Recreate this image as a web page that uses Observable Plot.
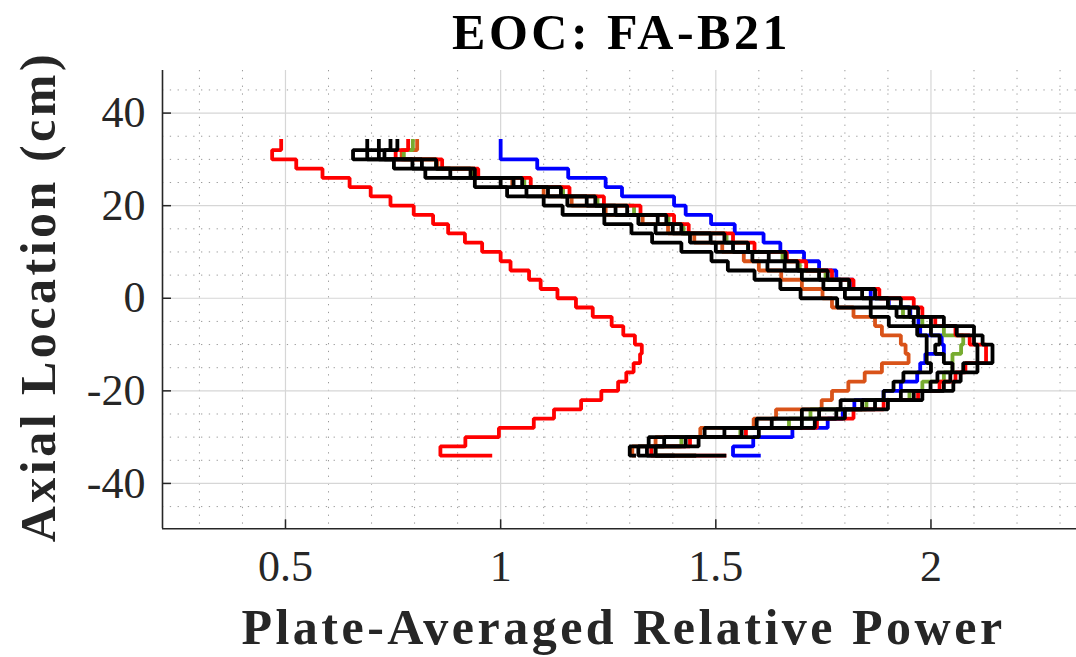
<!DOCTYPE html>
<html><head><meta charset="utf-8">
<script src="https://cdn.jsdelivr.net/npm/d3@7"></script>
<script src="https://cdn.jsdelivr.net/npm/@observablehq/plot@0.6"></script>
<style>
html,body{margin:0;padding:0;background:#fff;}
#chart svg{display:block;}
g[font-weight="bold"] text{letter-spacing:3.5px;}
</style></head><body><div id="chart"></div>
<script>
// Axial bin edges (cm), top to bottom
const zEdges = [34,32,30,28,26,24,22,20,18,16,14,12,10,8,6,4,2,0,-2,-4,-6,-8,-10,-12,-14,-16,-18,-20,-22,-24,-26,-28,-30,-32,-34];

// Plate-averaged relative power per axial bin (top -> bottom), plus final step value
const redLeft = [0.49,0.469,0.525,0.586,0.649,0.698,0.744,0.798,0.843,0.878,0.917,0.957,1.0,1.023,1.066,1.093,1.132,1.175,1.214,1.258,1.285,1.312,1.328,1.324,1.309,1.292,1.273,1.234,1.187,1.124,1.077,0.996,0.918,0.86];
const redLeftEnd = 0.976;
const blue = [1.0,1.0,1.085,1.157,1.244,1.282,1.403,1.43,1.489,1.544,1.611,1.65,1.705,1.74,1.78,1.819,1.86,1.902,1.952,1.971,1.975,2.025,2.03,1.987,1.975,1.968,1.93,1.89,1.822,1.795,1.76,1.678,1.587,1.54];
const blueEnd = 1.60;
const orange = [0.806,0.77,0.853,0.94,1.027,1.10,1.165,1.244,1.33,1.389,1.45,1.515,1.565,1.60,1.652,1.70,1.748,1.77,1.82,1.87,1.886,1.93,1.941,1.948,1.886,1.846,1.808,1.77,1.746,1.64,1.588,1.464,1.36,1.306];
const orangeEnd = 1.31;
const green = [0.796,0.775,0.85,0.935,1.055,1.145,1.225,1.31,1.39,1.425,1.525,1.575,1.655,1.695,1.755,1.81,1.87,1.90,1.935,1.98,2.03,2.075,2.07,2.05,2.05,2.03,1.98,1.95,1.85,1.72,1.67,1.557,1.42,1.36];
const greenEnd = 1.45;
const redRight = [0.785,0.756,0.864,0.948,1.07,1.16,1.24,1.325,1.403,1.437,1.54,1.59,1.665,1.71,1.77,1.82,1.88,1.96,1.98,2.01,2.057,2.09,2.128,2.128,2.08,2.057,2.02,1.97,1.89,1.82,1.735,1.57,1.44,1.35];
const redRightEnd = 1.52;
const black1 = [0.69,0.657,0.752,0.825,0.94,1.015,1.10,1.144,1.241,1.304,1.352,1.42,1.49,1.528,1.59,1.65,1.697,1.782,1.86,1.902,1.968,1.99,1.99,1.99,2.0,1.936,1.913,1.89,1.79,1.70,1.595,1.474,1.344,1.30];
const black1End = 1.31;
const black2 = [0.717,0.69,0.795,0.883,1.0,1.06,1.155,1.24,1.32,1.36,1.44,1.50,1.585,1.62,1.70,1.75,1.80,1.86,1.92,1.96,2.0,2.02,2.01,2.03,2.05,2.015,1.999,1.93,1.84,1.74,1.63,1.52,1.38,1.32];
const black2End = 1.40;
const black3 = [0.744,0.717,0.817,0.93,1.03,1.11,1.20,1.267,1.365,1.40,1.488,1.54,1.623,1.66,1.74,1.79,1.84,1.90,1.95,2.0,2.06,2.10,2.108,2.108,2.075,2.045,2.03,1.96,1.87,1.78,1.70,1.56,1.43,1.34];
const black3End = 1.45;
const black4 = [0.76,0.73,0.85,0.94,1.05,1.14,1.22,1.294,1.385,1.42,1.52,1.575,1.662,1.69,1.76,1.81,1.87,1.93,1.97,2.03,2.1,2.12,2.143,2.143,2.108,2.069,2.052,1.98,1.90,1.80,1.73,1.60,1.46,1.36];
const black4End = 1.52;

// Ticks
const xMajor = [0.5, 1, 1.5, 2];
const xTickLabels = ["0.5", "1", "1.5", "2"];
const xMinor = [0.3,0.4,0.6,0.7,0.8,0.9,1.1,1.2,1.3,1.4,1.6,1.7,1.8,1.9,2.1,2.2,2.3];
const yMajor = [-40, -20, 0, 20, 40];
const yTickLabels = ["-40", "-20", "0", "20", "40"];
const yMinor = [-45,-35,-30,-25,-15,-10,-5,5,10,15,25,30,35,45];
const xDomain = [0.2142, 2.3382];
const yDomain = [-49.8, 49.2];

const titleText = "EOC: FA-B21";
const xLabelText = "Plate-Averaged Relative Power";
const yLabelText = "Axial Location (cm)";

function stairs(vals, end) {
  const pts = [];
  for (let i = 0; i < vals.length; i++) {
    pts.push({x: vals[i], y: zEdges[i]});
    pts.push({x: vals[i], y: zEdges[i + 1]});
  }
  pts.push({x: end, y: zEdges[zEdges.length - 1]});
  return pts;
}

const seriesList = [
  {vals: redLeft, end: redLeftEnd, color: "#ff0000"},
  {vals: blue, end: blueEnd, color: "#0000ff"},
  {vals: orange, end: orangeEnd, color: "#d95319"},
  {vals: green, end: greenEnd, color: "#77ac30"},
  {vals: redRight, end: redRightEnd, color: "#ff0000"},
  {vals: black1, end: black1End, color: "#000000"},
  {vals: black2, end: black2End, color: "#000000"},
  {vals: black3, end: black3End, color: "#000000"},
  {vals: black4, end: black4End, color: "#000000"}
];

const lineMarks = seriesList.map(s => Plot.line(stairs(s.vals, s.end), {
  x: "x", y: "y", stroke: s.color, strokeWidth: 3.8, strokeLinejoin: "miter", strokeLinecap: "square"
}));

const chart = Plot.plot({
  width: 1076, height: 657,
  marginLeft: 162, marginRight: 0, marginTop: 70, marginBottom: 128.7,
  x: {domain: xDomain, axis: null},
  y: {domain: yDomain, axis: null},
  style: {background: "white", fontFamily: "Liberation Serif"},
  marks: [
    Plot.ruleX(xMinor, {x: d => d, stroke: "#9a9a9a", strokeWidth: 1, strokeDasharray: "1.3,6.5"}),
    Plot.ruleY(yMinor, {y: d => d, stroke: "#9a9a9a", strokeWidth: 1, strokeDasharray: "1.3,6.5"}),
    Plot.ruleX(xMajor, {x: d => d, stroke: "#d6d6d6", strokeWidth: 1.2}),
    Plot.ruleY(yMajor, {y: d => d, stroke: "#d6d6d6", strokeWidth: 1.2}),
    ...lineMarks,
    Plot.ruleX([xDomain[0]], {x: d => d, stroke: "#262626", strokeWidth: 1.6}),
    Plot.ruleY([yDomain[0]], {y: d => d, stroke: "#262626", strokeWidth: 1.6}),
    Plot.axisX({ticks: xMajor, tickSize: -9, tickFormat: () => "", label: null, stroke: "#262626", strokeWidth: 1.5}),
    Plot.axisY({ticks: yMajor, tickSize: -9, tickFormat: () => "", label: null, stroke: "#262626", strokeWidth: 1.5}),
    Plot.text(xMajor, {x: d => d, text: (d, i) => xTickLabels[i], frameAnchor: "bottom", lineAnchor: "middle", dy: 38.5, fontSize: 44, fill: "#262626"}),
    Plot.text(yMajor, {y: d => d, text: (d, i) => yTickLabels[i], frameAnchor: "left", lineAnchor: "middle", dx: -17, textAnchor: "end", fontSize: 44, fill: "#262626"}),
    Plot.text([titleText], {text: d => d, frameAnchor: "top", lineAnchor: "middle", textAnchor: "middle", dy: -38, dx: 2, fontSize: 50, fontWeight: "bold", fill: "#000"}),
    Plot.text([xLabelText], {text: d => d, frameAnchor: "bottom", lineAnchor: "middle", textAnchor: "middle", dy: 99, dx: 4, fontSize: 50, fontWeight: "bold", fill: "#262626"}),
    Plot.text([yLabelText], {text: d => d, frameAnchor: "left", lineAnchor: "middle", textAnchor: "middle", dx: -124, dy: -3, rotate: -90, fontSize: 50, fontWeight: "bold", fill: "#262626"})
  ]
});
document.getElementById("chart").appendChild(chart);
</script>
</body></html>
